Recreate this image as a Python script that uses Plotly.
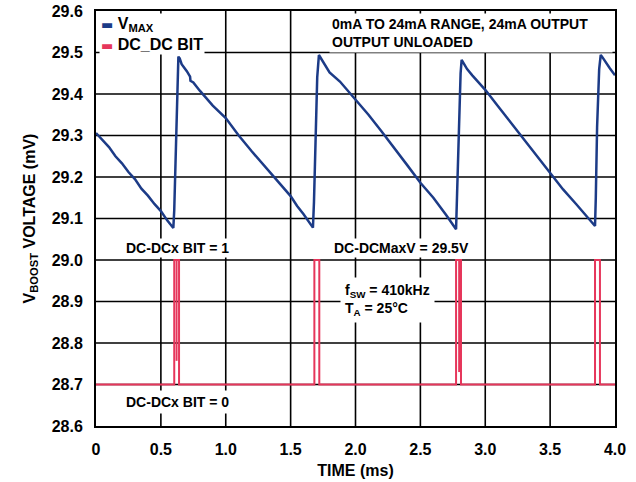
import plotly.graph_objects as go

# ---- data ----
vmax_t = [0.00, 0.05, 0.10, 0.15, 0.20, 0.25, 0.30, 0.35, 0.40, 0.45, 0.50, 0.55, 0.596,
          0.603, 0.609, 0.622, 0.635, 0.645, 0.66, 0.70, 0.725, 0.728, 0.75, 0.80, 0.90, 1.00,
          1.10, 1.20, 1.30, 1.40, 1.50, 1.55, 1.60, 1.672,
          1.680, 1.690, 1.705, 1.718, 1.73, 1.76, 1.80, 1.88, 1.95, 2.00, 2.10, 2.20, 2.30,
          2.40, 2.50, 2.60, 2.70, 2.775,
          2.783, 2.795, 2.810, 2.818, 2.83, 2.86, 2.90, 3.00, 3.10, 3.20, 3.30, 3.40, 3.50,
          3.60, 3.70, 3.80, 3.846,
          3.852, 3.862, 3.878, 3.890, 3.90, 3.93, 3.96, 4.00]
vmax_v = [29.306, 29.290, 29.272, 29.250, 29.233, 29.212, 29.195, 29.172, 29.155, 29.135, 29.118, 29.095, 29.077,
          29.120, 29.190, 29.330, 29.490, 29.486, 29.472, 29.455, 29.442, 29.432, 29.428, 29.408, 29.372, 29.342,
          29.300, 29.262, 29.225, 29.190, 29.154, 29.130, 29.110, 29.078,
          29.140, 29.290, 29.440, 29.494, 29.488, 29.470, 29.452, 29.430, 29.405, 29.386, 29.350, 29.310, 29.270,
          29.228, 29.186, 29.150, 29.108, 29.074,
          29.160, 29.320, 29.450, 29.482, 29.476, 29.460, 29.445, 29.410, 29.370, 29.330, 29.290, 29.250, 29.210,
          29.170, 29.135, 29.100, 29.082,
          29.150, 29.320, 29.460, 29.494, 29.490, 29.475, 29.462, 29.445]

bit_t = [0.00, 0.603, 0.603, 0.640, 0.640, 1.683, 1.683, 1.721, 1.721, 2.775, 2.775, 2.813, 2.813,
         3.846, 3.846, 3.884, 3.884, 4.00, None, 0.621, 0.621, None, 2.799, 2.799]
bit_v = [28.70, 28.70, 29.00, 29.00, 28.70, 28.70, 29.00, 29.00, 28.70, 28.70, 29.00, 29.00, 28.70,
         28.70, 29.00, 29.00, 28.70, 28.70, None, 29.00, 28.757, None, 29.00, 28.73]

x_ticks = [0, 0.5, 1.0, 1.5, 2.0, 2.5, 3.0, 3.5, 4.0]
x_ticktext = ["0", "0.5", "1.0", "1.5", "2.0", "2.5", "3.0", "3.5", "4.0"]
y_ticks = [28.6, 28.7, 28.8, 28.9, 29.0, 29.1, 29.2, 29.3, 29.4, 29.5, 29.6]
y_ticktext = ["28.6", "28.7", "28.8", "28.9", "29.0", "29.1", "29.2", "29.3", "29.4", "29.5", "29.6"]

series_names = ["V<sub>MAX</sub>", "DC_DC BIT"]

BLUE = "#1c3b87"
RED = "#e6365b"
FONT = "Liberation Sans, Arial, sans-serif"

fig = go.Figure()
fig.add_trace(go.Scatter(x=vmax_t, y=vmax_v, mode="lines", name=series_names[0],
                         line=dict(color=BLUE, width=2.5), showlegend=False))
fig.add_trace(go.Scatter(x=bit_t, y=bit_v, mode="lines", name=series_names[1],
                         line=dict(color=RED, width=2), showlegend=False))

# grid lines at the tick positions (drawn beneath the traces)
for xv in x_ticks[1:-1]:
    fig.add_shape(type="line", xref="x", yref="paper", x0=xv, x1=xv, y0=0, y1=1,
                  line=dict(color="black", width=1.6), layer="below")
for yv in y_ticks[1:-1]:
    fig.add_shape(type="line", xref="paper", yref="y", x0=0, x1=1, y0=yv, y1=yv,
                  line=dict(color="black", width=1.6), layer="below")

ann_font = dict(family=FONT, size=14, color="black", weight="bold")
dash = '<span style="font-family:DejaVu Sans;font-size:13px;color:{c}">▬</span> '
legend_text = (dash.format(c=BLUE) + series_names[0] + "<br>" +
               dash.format(c=RED) + series_names[1])

annotations = [
    # legend block
    dict(x=0, y=1, xref="paper", yref="paper", xanchor="left", yanchor="top",
         xshift=3, yshift=-2, text=legend_text, showarrow=False, align="left",
         font=dict(family=FONT, size=16, color="black", weight="bold"),
         bgcolor="white", borderpad=1),
    dict(x=0.628, y=29.029, xref="x", yref="y", text="DC-DCx BIT = 1", showarrow=False,
         font=ann_font, bgcolor="white", borderpad=1),
    dict(x=2.356, y=29.029, xref="x", yref="y", text="DC-DCMaxV = 29.5V", showarrow=False,
         font=ann_font, bgcolor="white", borderpad=1),
    dict(x=0.628, y=28.658, xref="x", yref="y", text="DC-DCx BIT = 0", showarrow=False,
         font=ann_font, bgcolor="white", borderpad=3),
    dict(x=2.247, y=28.904, xref="x", yref="y",
         text="f<sub>SW</sub> = 410kHz<br>T<sub>A</sub> = 25°C", showarrow=False,
         font=ann_font, bgcolor="white", align="left", borderpad=4),
    dict(x=1, y=1, xref="paper", yref="paper", xanchor="right", yanchor="top",
         xshift=-2, yshift=-2, width=278, height=34, align="left", valign="middle",
         text="0mA TO 24mA RANGE, 24mA OUTPUT<br>OUTPUT UNLOADED", showarrow=False,
         font=ann_font, bgcolor="white", borderpad=2),
]

axis_common = dict(showgrid=False, zeroline=False,
                   showline=True, linecolor="black", linewidth=2, mirror=True,
                   ticks="", automargin=False,
                   tickfont=dict(family=FONT, size=16, color="black", weight="bold"))

fig.update_layout(
    template="none",
    width=636, height=482,
    margin=dict(l=96, r=21, t=11, b=56),
    paper_bgcolor="white", plot_bgcolor="white",
    font=dict(family=FONT, color="black"),
    xaxis=dict(range=[0, 4.0], tickmode="array", tickvals=x_ticks, ticktext=x_ticktext,
               ticklabelstandoff=8,
               title=dict(text="TIME (ms)", standoff=8,
                          font=dict(family=FONT, size=16, color="black", weight="bold")),
               **axis_common),
    yaxis=dict(range=[28.6, 29.6], tickmode="array", tickvals=y_ticks, ticktext=y_ticktext,
               ticklabelstandoff=8,
               title=dict(text="V<sub>BOOST</sub> VOLTAGE (mV)", standoff=12,
                          font=dict(family=FONT, size=16, color="black", weight="bold")),
               **axis_common),
    annotations=annotations,
    showlegend=False,
)

fig.write_html("out.html",
               config={"displayModeBar": False},
               post_script="document.body.style.margin='0px';document.body.style.overflow='hidden';")
